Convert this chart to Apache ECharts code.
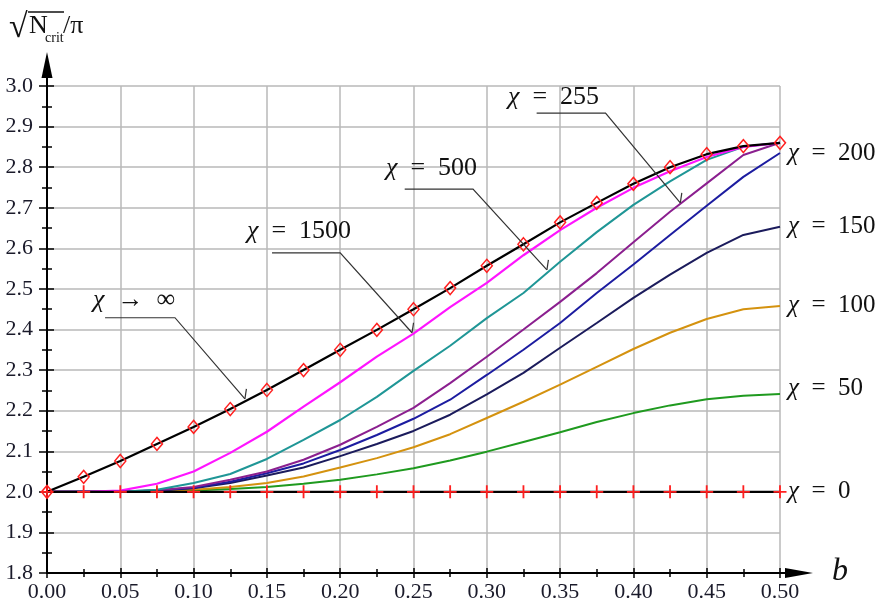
<!DOCTYPE html>
<html><head><meta charset="utf-8">
<script src="https://cdn.jsdelivr.net/npm/echarts@6/dist/echarts.min.js"></script>
<style>html,body{margin:0;padding:0;background:#fff}#c{width:876px;height:605px}</style>
</head><body><div id="c"></div>
<script>
// ---- data ----
const xs = [0,0.025,0.05,0.075,0.1,0.125,0.15,0.175,0.2,0.225,0.25,0.275,0.3,0.325,0.35,0.375,0.4,0.425,0.45,0.475,0.5];
const chiInf  = [2.000,2.037,2.076,2.118,2.160,2.204,2.251,2.300,2.350,2.399,2.450,2.502,2.557,2.610,2.664,2.712,2.759,2.800,2.832,2.852,2.860];
const chi1500 = [2.000,2.000,2.003,2.020,2.050,2.096,2.148,2.210,2.270,2.333,2.390,2.455,2.515,2.583,2.645,2.700,2.749,2.790,2.825,2.850,2.860];
const chi500  = [2.000,2.000,2.000,2.005,2.022,2.044,2.081,2.128,2.177,2.234,2.298,2.360,2.428,2.490,2.567,2.640,2.707,2.765,2.818,2.850,2.860];
const chi255  = [2.000,2.000,2.001,2.004,2.012,2.030,2.050,2.079,2.116,2.160,2.207,2.268,2.333,2.400,2.468,2.539,2.615,2.690,2.760,2.830,2.860];
const chi200  = [2.000,2.000,2.000,2.003,2.010,2.025,2.046,2.070,2.103,2.140,2.180,2.227,2.288,2.350,2.416,2.490,2.560,2.633,2.705,2.776,2.835];
const chi150  = [2.000,2.000,2.000,2.003,2.009,2.022,2.040,2.060,2.088,2.118,2.150,2.190,2.240,2.293,2.355,2.416,2.478,2.535,2.589,2.633,2.653];
const chi100  = [2.000,2.000,2.000,2.001,2.005,2.012,2.022,2.038,2.060,2.083,2.110,2.142,2.182,2.222,2.264,2.308,2.352,2.392,2.426,2.450,2.458];
const chi50   = [2.000,2.000,2.000,2.001,2.003,2.007,2.012,2.020,2.030,2.043,2.058,2.077,2.099,2.123,2.147,2.172,2.194,2.213,2.228,2.237,2.241];
const chi0    = [2,2,2,2,2,2,2,2,2,2,2,2,2,2,2,2,2,2,2,2,2];

const xMin = 0, xMax = 0.5, xStep = 0.05;
const yMin = 1.8, yMax = 3.0, yStep = 0.1;

// right-side labels: text and the value they sit at
const rightLabels = ['200','150','100','50','0'];
const rightLabelY = [2.835, 2.655, 2.46, 2.255, 2.0];

// annotation call-outs (text, leader line in data coords)
const callouts = [
  {rest:'\u2002\u2192\u2002\u221E', tx:93,  ty:300, pts:[[0.0396,2.429],[0.0873,2.429],[0.135,2.229]]},
  {rest:'\u2002=\u20021500',        tx:247, ty:231, pts:[[0.1535,2.589],[0.2,2.589],[0.249,2.392]]},
  {rest:'\u2002=\u2002500',         tx:386, ty:168, pts:[[0.244,2.746],[0.2906,2.746],[0.341,2.547]]},
  {rest:'\u2002=\u2002255',         tx:508, ty:97,  pts:[[0.334,2.933],[0.381,2.933],[0.432,2.712]]}
];

const SERIF = 'Liberation Serif';
const pair = arr => xs.map((x,i)=>[x,arr[i]]);

function line(name, arr, color, width, extra){
  return Object.assign({
    name, type:'line', data:pair(arr), showSymbol:false, symbol:'none',
    lineStyle:{color, width}, itemStyle:{color}, silent:true, xAxisIndex:0, yAxisIndex:0
  }, extra||{});
}

const chart = echarts.init(document.getElementById('c'), null, {renderer:'canvas'});

const option = {
  animation:false,
  backgroundColor:'#fff',
  textStyle:{fontFamily:SERIF},
  grid:{left:47, right:96, top:86, bottom:32, containLabel:false},
  xAxis:[
    {type:'value', min:xMin, max:xMax, interval:xStep, position:'bottom',
     axisLine:{show:true, onZero:false, lineStyle:{color:'#000', width:2}},
     axisTick:{show:true, inside:false, length:5, lineStyle:{color:'#000', width:1.5}},
     minorTick:{show:true, splitNumber:2, length:4, lineStyle:{color:'#000', width:1.5}},
     axisLabel:{show:true, margin:8, fontFamily:SERIF, fontSize:22, color:'#1a1a2a', formatter:v=>v.toFixed(2)},
     splitLine:{show:true, lineStyle:{color:'#b9b9b9', width:1.5}}},
    {type:'value', min:xMin, max:xMax, interval:xStep, position:'bottom',
     axisLine:{show:false, onZero:false},
     axisTick:{show:true, inside:true, length:5, lineStyle:{color:'#000', width:1.5}},
     minorTick:{show:true, splitNumber:2, length:4, lineStyle:{color:'#000', width:1.5}},
     axisLabel:{show:false}, splitLine:{show:false}}
  ],
  yAxis:[
    {type:'value', min:yMin, max:yMax, interval:yStep, position:'left',
     axisLine:{show:true, onZero:false, lineStyle:{color:'#000', width:2}},
     axisTick:{show:true, inside:false, length:8, lineStyle:{color:'#000', width:1.5}},
     minorTick:{show:true, splitNumber:2, length:5, lineStyle:{color:'#000', width:1.5}},
     axisLabel:{show:true, margin:14, fontFamily:SERIF, fontSize:22, color:'#1a1a2a', formatter:v=>v.toFixed(1)},
     splitLine:{show:true, lineStyle:{color:'#b9b9b9', width:1.5}}},
    {type:'value', min:yMin, max:yMax, interval:yStep, position:'left',
     axisLine:{show:false, onZero:false},
     axisTick:{show:true, inside:true, length:7, lineStyle:{color:'#000', width:1.5}},
     minorTick:{show:true, splitNumber:2, length:5, lineStyle:{color:'#000', width:1.5}},
     axisLabel:{show:false}, splitLine:{show:false}}
  ],
  series:[
    line('χ = 50',   chi50,   '#1f9a1f', 2),
    line('χ = 100',  chi100,  '#d4920f', 2),
    line('χ = 150',  chi150,  '#1b1b5c', 2),
    line('χ = 200',  chi200,  '#1c1ca0', 2),
    line('χ = 255',  chi255,  '#8b1f8f', 2),
    line('χ = 500',  chi500,  '#1f9696', 2),
    line('χ = 1500', chi1500, '#ff14ff', 2.2),
    line('χ → ∞',    chiInf,  '#000000', 2.2, {
      showSymbol:true, symbol:'diamond', symbolSize:[11,13],
      itemStyle:{color:'rgba(255,255,255,0)', borderColor:'#ff2020', borderWidth:1.5}}),
    line('χ = 0',    chi0,    '#000000', 2.2, {
      showSymbol:true, symbol:'path://M4.3,0H5.7V4.3H10V5.7H5.7V10H4.3V5.7H0V4.3H4.3Z', symbolSize:13,
      itemStyle:{color:'#ff2020'}})
  ]
};
chart.setOption(option);

// ---- overlay graphics (axis arrows, titles, call-outs) ----
const P = (x,y)=>chart.convertToPixel({xAxisIndex:0, yAxisIndex:0},[x,y]);
const g = [];
const o = P(xMin,yMin), yTop = P(xMin,yMax), xRight = P(xMax,yMin);

// y axis extension + arrow
g.push({type:'line', shape:{x1:o[0], y1:yTop[1], x2:o[0], y2:74}, style:{stroke:'#000', lineWidth:2}, z:50});
g.push({type:'polygon', shape:{points:[[o[0],52],[o[0]-5.5,78],[o[0]+5.5,78]]}, style:{fill:'#000'}, z:50});
// x axis extension + arrow
g.push({type:'line', shape:{x1:xRight[0], y1:o[1], x2:790, y2:o[1]}, style:{stroke:'#000', lineWidth:2}, z:50});
g.push({type:'polygon', shape:{points:[[813,o[1]],[785,o[1]-5],[785,o[1]+5]]}, style:{fill:'#000'}, z:50});

// axis titles
g.push({type:'text', x:832, y:572, style:{text:'b', font:'italic 32px '+SERIF, fill:'#111', verticalAlign:'middle'}, z:50});
g.push({type:'text', x:9, y:28, style:{text:'\u221A', font:'34px '+SERIF, fill:'#111', verticalAlign:'middle'}, z:50});
g.push({type:'line', shape:{x1:28, y1:12, x2:64, y2:12}, style:{stroke:'#111', lineWidth:1.5}, z:50});
g.push({type:'text', x:29, y:26, style:{text:'N', font:'26px '+SERIF, fill:'#111', verticalAlign:'middle'}, z:50});
g.push({type:'text', x:45, y:38, style:{text:'crit', font:'14px '+SERIF, fill:'#111', verticalAlign:'middle'}, z:50});
g.push({type:'text', x:63, y:26, style:{text:'/\u03C0', font:'26px '+SERIF, fill:'#111', verticalAlign:'middle'}, z:50});

function chiText(x, y, rest, fs){
  return {type:'text', x, y, z:60, style:{
    text:'{i|χ}{n|'+rest+'}', verticalAlign:'middle', align:'left',
    rich:{
      i:{fontFamily:SERIF, fontStyle:'italic', fontSize:fs, fill:'#111'},
      n:{fontFamily:SERIF, fontSize:fs, fill:'#111'}
    }}};
}

// right labels
rightLabels.forEach((t,i)=>{
  const p = P(xMax, rightLabelY[i]);
  g.push(chiText(p[0]+8, p[1], '\u2002=\u2002'+t, 25));
});

// call-outs
callouts.forEach(c=>{
  const pts = c.pts.map(q=>P(q[0],q[1]));
  const e = pts[pts.length-1];
  g.push({type:'polyline', shape:{points:pts}, style:{stroke:'#333', lineWidth:1.2, fill:null}, z:55});
  g.push({type:'line', shape:{x1:e[0], y1:e[1], x2:e[0]+1.5, y2:e[1]-10}, style:{stroke:'#333', lineWidth:1.2}, z:55});
  g.push(chiText(c.tx, c.ty, c.rest, 26));
});

chart.setOption({graphic:{elements:g}});
</script>
</body></html>
